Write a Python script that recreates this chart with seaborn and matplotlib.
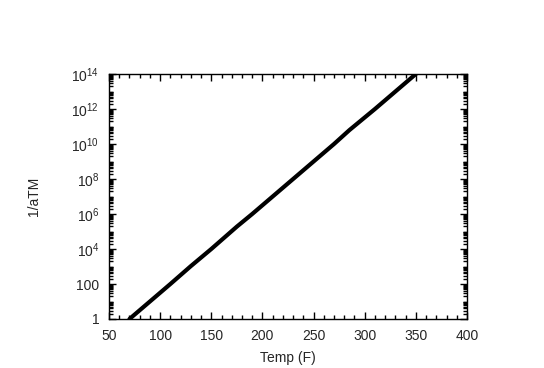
import numpy as np
import pandas as pd
import matplotlib
matplotlib.use('Agg')
import matplotlib.pyplot as plt
import matplotlib.ticker as mticker
import seaborn as sns

# values
temp_f = [70, 90, 110, 130, 150, 175, 190, 210, 230, 250, 270, 285, 310, 330, 350]
inv_atm = [1.0, 1.0e1, 1.0e2, 1.05e3, 1.0e4, 1.9e5, 1.0e6, 1.0e7, 1.0e8, 1.0e9, 1.0e10, 6.2e10, 1.0e12, 1.0e13, 1.0e14]

y_ticks = [1, 1e2, 1e4, 1e6, 1e8, 1e10, 1e12, 1e14]
y_labels = ['1', '100', '10$^{4}$', '10$^{6}$', '10$^{8}$', '10$^{10}$', '10$^{12}$', '10$^{14}$']

sns.set_style('ticks')
plt.rcParams['font.family'] = ['Liberation Sans', 'DejaVu Sans']
plt.rcParams['mathtext.fontset'] = 'custom'
plt.rcParams['mathtext.rm'] = 'Liberation Sans'
plt.rcParams['mathtext.it'] = 'Liberation Sans'

df = pd.DataFrame({'Temp (F)': temp_f, '1/aTM': inv_atm})

fig = plt.figure(figsize=(5.44, 3.68), dpi=100)
ax = fig.add_axes([109 / 544, 1 - 319 / 368, (467 - 109) / 544, (319 - 74) / 368])
sns.lineplot(data=df, x='Temp (F)', y='1/aTM', ax=ax, color='black', linewidth=3)

ax.set_yscale('log')
ax.set_xlim(50, 400)
ax.set_ylim(1, 1e14)
ax.set_xticks([50, 100, 150, 200, 250, 300, 350, 400])
ax.xaxis.set_minor_locator(mticker.MultipleLocator(10))
ax.set_yticks(y_ticks)
ax.set_yticklabels(y_labels)
ax.yaxis.set_minor_locator(mticker.LogLocator(base=10, subs=np.arange(1, 10), numticks=30))
ax.yaxis.set_minor_formatter(mticker.NullFormatter())

ax.tick_params(which='both', direction='in', top=True, right=True, labelsize=10, color='black', width=1)
ax.tick_params(which='major', length=5, pad=7)
ax.tick_params(which='minor', length=3)
for s in ax.spines.values():
    s.set_color('black')
    s.set_linewidth(1)

ax.set_xlabel('Temp (F)', fontsize=10, labelpad=6)
ax.set_ylabel('1/aTM', fontsize=10, labelpad=22)

fig.savefig('out.png', dpi=100)
